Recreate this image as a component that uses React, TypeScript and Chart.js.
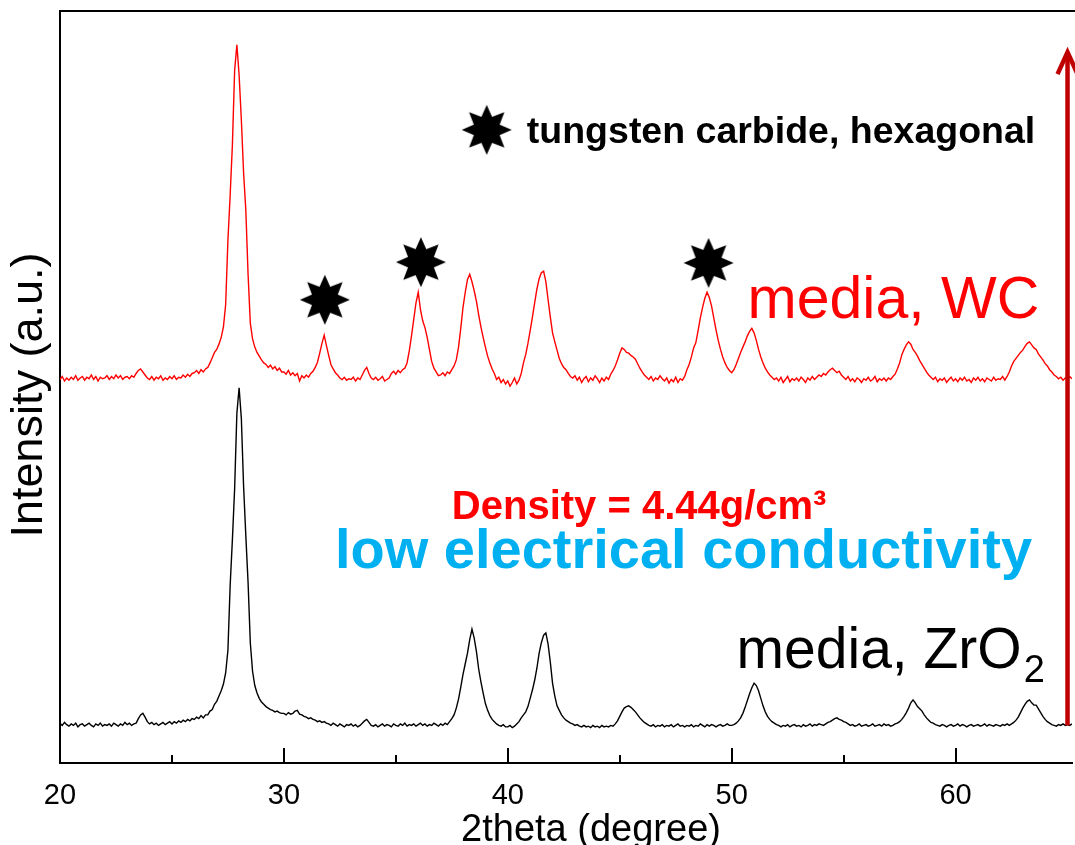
import { useEffect, useRef } from "react";
import { Chart, registerables } from "chart.js";

Chart.register(...registerables);

// 2theta grid of the scan (degrees)
const ANGLE_START = 20.0;
const ANGLE_STEP = 0.1;

// media, ZrO2 (lower pattern, plotted with its offset)
const zro2Intensity = [
  5.3, 5.0, 5.4, 5.1, 4.9, 5.2, 5.0, 5.3, 4.8, 5.1,
  5.2, 4.9, 5.1, 5.3, 5.0, 4.8, 5.2, 5.0, 5.3, 4.9,
  5.1, 5.0, 5.2, 4.9, 5.3, 5.1, 4.9, 5.2, 5.0, 5.4,
  5.1, 5.3, 5.0, 5.2, 5.3, 5.9, 6.4, 6.6, 6.1, 5.5,
  5.2, 5.4, 5.1, 5.3, 5.0, 5.2, 5.4, 5.1, 5.3, 5.5,
  5.2, 5.5, 5.3, 5.6, 5.4, 5.7, 5.5, 5.8, 5.6, 5.9,
  5.8, 6.1, 5.9, 6.3, 6.0, 6.4, 6.4, 6.9, 7.1, 7.8,
  8.2, 8.9, 9.6, 10.5, 12.0, 15.0, 23.6, 29.7, 36.5, 46.5,
  49.9, 45.8, 36.8, 30.2, 24.0, 16.0, 12.2, 10.3, 9.3, 8.6,
  8.1, 7.8, 7.5, 7.3, 7.1, 7.0, 6.8, 6.9, 6.7, 6.6,
  6.6, 6.4, 6.7, 6.5, 6.6, 6.9, 7.0, 6.5, 6.4, 6.2,
  6.1, 5.9, 6.0, 5.8, 5.7, 5.5, 5.6, 5.4, 5.5, 5.3,
  5.2, 5.0, 5.3, 5.1, 4.9, 5.2, 5.0, 4.8, 5.1, 5.0,
  5.2, 4.9, 5.1, 4.8, 5.0, 5.3, 5.6, 5.8, 5.4, 5.0,
  4.9, 5.1, 4.8, 5.0, 5.2, 4.9, 5.1, 5.0, 4.8, 5.2,
  5.0, 4.9, 5.2, 5.0, 5.3, 4.9, 5.1, 5.0, 5.2, 4.9,
  5.1, 5.3, 5.0, 5.2, 4.9, 5.1, 5.0, 5.3, 5.1, 4.9,
  5.2, 5.0, 5.3, 5.1, 5.5, 5.9, 6.4, 7.3, 8.5, 10.1,
  11.8, 13.2, 14.6, 16.4, 17.8, 16.6, 14.8, 12.5, 10.8, 9.3,
  7.9, 7.0, 6.3, 5.8, 5.5, 5.2, 5.0, 4.9, 5.1, 4.8,
  4.8, 5.0, 4.7, 4.9, 5.2, 5.5, 6.0, 6.4, 6.8, 7.5,
  8.6, 9.7, 11.0, 12.6, 14.6, 16.0, 17.0, 17.3, 15.8, 13.4,
  10.6, 8.9, 7.6, 7.0, 6.4, 6.0, 5.7, 5.5, 5.3, 5.2,
  5.0, 5.1, 4.9, 4.8, 5.0, 4.8, 4.9, 4.7, 5.0, 4.8,
  4.9, 4.7, 5.0, 4.8, 4.9, 4.8, 5.0, 4.9, 5.2, 5.6,
  6.2, 6.8, 7.3, 7.5, 7.6, 7.4, 7.1, 6.8, 6.4, 6.0,
  5.7, 5.4, 5.2, 5.0, 4.9, 5.1, 4.8, 5.0, 4.9, 5.1,
  4.8, 5.0, 4.9, 5.1, 4.8, 5.0, 5.2, 4.9, 5.0, 4.8,
  5.0, 4.9, 5.1, 4.8, 5.0, 4.9, 5.2, 5.0, 4.8, 5.1,
  4.9, 5.1, 5.0, 4.8, 5.0, 5.1, 4.9, 5.0, 5.2, 5.0,
  5.0, 5.1, 5.3, 5.6, 6.0, 6.6, 7.4, 8.3, 9.2, 10.0,
  10.6, 10.3, 9.6, 8.6, 7.6, 6.8, 6.2, 5.8, 5.5, 5.3,
  5.1, 5.0, 4.8, 5.0, 4.9, 5.1, 4.8, 5.0, 5.1, 4.9,
  5.0, 4.8, 5.1, 4.9, 5.0, 5.2, 4.9, 5.1, 5.0, 5.2,
  5.1, 5.0, 5.2, 5.4, 5.5, 5.7, 5.9, 6.0, 5.8, 5.7,
  5.5, 5.4, 5.2, 5.0, 5.1, 4.9, 5.0, 5.2, 4.9, 5.0,
  5.1, 4.9, 5.0, 5.2, 4.9, 5.0, 5.1, 4.9, 5.2, 5.0,
  5.1, 4.9, 5.0, 5.2, 5.3, 5.5, 5.8, 6.2, 6.7, 7.3,
  8.0, 8.4, 8.0, 7.5, 7.2, 6.9, 6.4, 6.0, 5.7, 5.4,
  5.3, 5.1, 5.0, 4.9, 5.1, 5.0, 4.8, 5.0, 5.1, 4.9,
  5.0, 5.2, 4.9, 5.1, 5.0, 4.8, 5.0, 5.1, 4.9, 5.0,
  5.1, 4.9, 5.0, 5.2, 4.9, 5.1, 5.0, 4.9, 5.1, 5.0,
  4.9, 5.1, 5.0, 5.2, 5.0, 5.2, 5.4, 5.7, 6.1, 6.7,
  7.3, 7.8, 8.2, 8.4, 8.0, 7.7, 7.7, 7.2, 6.7, 6.2,
  5.8, 5.5, 5.3, 5.1, 5.0, 4.9, 5.1, 5.0, 5.2, 5.0,
  5.1, 5.0, 5.2,
];

// media, WC (upper pattern, plotted with its offset)
const wcIntensity = [
  51.0, 51.4, 50.8, 51.2, 50.9, 51.3, 51.0, 51.5, 50.9, 51.2,
  51.4, 50.9, 51.3, 51.1, 51.6, 51.0, 51.4, 50.8, 51.3, 51.1,
  51.2, 51.5, 51.0, 51.4, 51.1, 51.6, 51.2, 51.5, 51.0, 51.3,
  51.4, 51.1, 51.5, 51.3, 51.8, 52.2, 52.4, 52.0, 51.6, 51.2,
  51.0, 51.4, 50.9, 51.3, 51.1, 51.5, 50.9, 51.2, 51.0, 51.4,
  51.1, 51.5, 51.0, 51.3, 51.2, 51.6, 51.3, 51.7, 51.4, 51.8,
  51.9, 52.2, 51.8, 52.3, 52.0, 52.4, 52.6, 53.2, 53.9, 54.6,
  55.0, 55.7, 56.6, 58.0, 61.0, 69.5, 75.5, 82.2, 92.1, 95.5,
  91.5, 85.5, 78.5, 73.5, 65.0, 58.5, 56.4, 55.3, 54.6, 54.1,
  53.6, 53.2, 53.0, 52.6, 52.9, 52.4, 52.7, 52.2, 52.5, 52.0,
  52.0, 51.7, 52.2, 51.6, 51.9, 51.5, 51.8, 50.8, 51.5, 51.2,
  51.6, 51.3, 51.8, 52.1, 52.6, 53.3, 54.5, 55.8, 56.9, 55.5,
  54.2, 53.0, 52.4, 51.9, 51.6, 51.2, 51.0, 51.3, 50.9, 51.1,
  51.0, 51.3, 50.8, 51.2, 51.0, 51.6, 52.2, 52.6, 51.8, 51.2,
  51.0, 51.3, 50.9, 51.1, 51.4, 50.8, 51.0, 51.2, 51.8, 52.1,
  51.7, 52.2, 51.9, 52.3, 52.5, 53.2, 54.8, 56.8, 59.0, 61.2,
  62.6, 60.3, 58.8, 57.9, 56.6, 55.0, 53.4, 52.5, 52.0, 51.5,
  51.6, 51.9, 51.5, 52.0, 51.8, 52.3, 52.8, 53.6, 55.3, 57.8,
  60.6, 62.6, 64.3, 65.0, 64.0, 62.8, 61.4, 59.6, 58.0, 56.6,
  55.3, 54.1, 53.2, 52.4, 51.8, 51.0, 51.3, 50.6, 51.0, 50.4,
  50.8, 50.1, 50.6, 51.2, 50.4, 50.9, 51.8, 53.2, 54.3, 55.8,
  57.5, 59.3, 61.2, 63.0, 64.4, 65.2, 65.4, 64.0, 61.6, 59.3,
  57.2, 56.0, 54.9, 53.8, 53.1, 52.6, 52.3, 51.8, 51.4, 51.2,
  51.5, 50.9, 51.3, 50.6, 51.1, 51.4, 50.7, 51.2, 50.9, 51.5,
  51.1, 50.6, 51.2, 50.8, 51.3, 51.0, 51.7, 52.2, 52.8, 53.6,
  54.5, 55.2, 55.0, 54.6, 54.5, 54.2, 54.0, 53.7, 53.1, 52.5,
  52.0, 51.6, 51.3, 51.0, 51.4, 50.8, 51.2, 51.0, 51.5, 51.1,
  50.8, 51.2, 50.5, 51.0, 50.7, 51.3, 50.6, 51.1, 50.9, 51.4,
  52.3, 53.0, 54.0, 55.2, 55.9, 57.5, 59.2, 60.6, 61.8, 62.6,
  61.9, 60.8, 59.2, 57.6, 56.2, 55.0, 54.0, 53.2, 52.6, 52.2,
  51.9, 52.3, 53.0, 53.8, 54.6, 55.3, 56.0, 56.8, 57.4, 57.8,
  57.2, 56.2, 55.0, 54.0, 53.2, 52.5, 52.0, 51.6, 51.3, 51.0,
  51.2, 50.8, 51.3, 50.6, 51.0, 51.4, 50.7, 51.1, 50.9, 51.2,
  50.8, 51.3, 51.0, 50.6, 51.2, 50.9, 51.4, 51.0, 51.3, 51.6,
  51.4, 51.8, 51.6, 52.0, 52.3, 52.5, 52.2, 51.9, 52.1, 51.6,
  51.3, 51.0, 51.4, 50.8, 51.1, 50.7, 51.2, 51.0, 50.6, 51.1,
  50.9, 51.3, 50.8, 51.0, 51.4, 50.7, 51.1, 50.9, 51.2, 50.8,
  51.2, 51.0, 51.4, 51.7, 52.4, 53.2, 54.3, 55.0, 55.6, 56.0,
  55.7, 55.0, 54.6, 54.1, 53.5, 53.0, 52.5, 52.0, 51.6, 51.3,
  51.0, 51.3, 50.7, 51.1, 50.9, 51.2, 50.6, 51.0, 51.3, 50.8,
  51.1, 50.7, 51.2, 50.9, 51.3, 50.8, 51.0, 50.6, 51.2, 50.9,
  51.3, 50.8, 51.1, 50.7, 51.2, 51.0, 50.8, 51.3, 50.9, 51.1,
  51.0, 51.4, 50.9, 51.4, 52.0, 52.8, 53.4, 53.8, 54.2, 54.6,
  54.9, 55.4, 55.8, 56.0, 55.6, 55.2, 55.0, 54.4, 54.0, 53.6,
  53.1, 52.8, 52.3, 52.0, 51.6, 51.4, 51.1, 51.3, 50.9, 51.2,
  51.0, 51.4, 51.1,
];

// tungsten carbide reflections marked with stars
const starAngles = [31.83, 36.12, 48.97];
const starHeights = [61.6, 66.6, 66.5];
const legendStarAngle = 39.06;
const legendStarHeight = 84.2;

const majorTicks = [20, 30, 40, 50, 60];
const minorTicks = [25, 35, 45, 55];
const X_MIN = 20;
const X_MAX = 65.2;

const xTitle = "2theta (degree)";
const yTitle = "Intensity (a.u.)";
const legendText = "tungsten carbide, hexagonal";
const wcLabel = "media, WC";
const zro2Label = "media, ZrO";
const zro2Sub = "2";
const densityText = "Density = 4.44g/cm³";
const conductivityText = "low electrical conductivity";

// arrow (x position and y extent in data units)
const arrowAngle = 65.0;
const arrowFrom = 5.0;
const arrowTo = 94.8;

const FONT = '"Liberation Sans", Arial, Helvetica, sans-serif';

function makeStar(): HTMLCanvasElement {
  const c = document.createElement("canvas");
  c.width = 52;
  c.height = 52;
  const g = c.getContext("2d")!;
  const R = 25;
  const r = 14;
  g.fillStyle = "#000";
  g.beginPath();
  for (let i = 0; i < 16; i++) {
    const a = -Math.PI / 2 + (i * Math.PI) / 8;
    const rad = i % 2 === 0 ? R : r;
    const px = 26 + rad * Math.cos(a);
    const py = 26 + rad * Math.sin(a);
    if (i === 0) g.moveTo(px, py);
    else g.lineTo(px, py);
  }
  g.closePath();
  g.fill();
  return c;
}

export default function App() {
  const ref = useRef<HTMLCanvasElement | null>(null);

  useEffect(() => {
    const canvas = ref.current;
    if (!canvas) return;
    const star = makeStar();
    const angles = zro2Intensity.map((_, i) => +(ANGLE_START + i * ANGLE_STEP).toFixed(1));

    const annotate = {
      id: "annotate",
      afterDraw(chart: any) {
        const { ctx, chartArea } = chart;
        const xs = chart.scales.x;
        const ys = chart.scales.y;
        const X = (v: number) => xs.getPixelForValue(v);
        const Y = (v: number) => ys.getPixelForValue(v);
        ctx.save();
        // top frame line
        ctx.strokeStyle = "#000";
        ctx.lineWidth = 2;
        ctx.beginPath();
        ctx.moveTo(chartArea.left - 1, chartArea.top);
        ctx.lineTo(chart.width, chartArea.top);
        ctx.stroke();
        // inward tick marks
        for (const v of majorTicks) {
          const px = Math.round(X(v));
          ctx.beginPath();
          ctx.moveTo(px, chartArea.bottom);
          ctx.lineTo(px, chartArea.bottom - 15);
          ctx.stroke();
        }
        for (const v of minorTicks) {
          const px = Math.round(X(v));
          ctx.beginPath();
          ctx.moveTo(px, chartArea.bottom);
          ctx.lineTo(px, chartArea.bottom - 8);
          ctx.stroke();
        }

        const text = (t: string, xv: number, yv: number, font: string, color: string) => {
          ctx.font = font;
          ctx.fillStyle = color;
          ctx.textAlign = "left";
          ctx.textBaseline = "alphabetic";
          ctx.fillText(t, X(xv), Y(yv));
        };

        // legend key text
        text(legendText, 40.85, 82.4, `bold 37.5px ${FONT}`, "#000");
        // labels
        text(wcLabel, 50.71, 59.2, `59px ${FONT}`, "#FF0000");
        text(densityText, 37.5, 32.4, `bold 40px ${FONT}`, "#FF0000");
        text(conductivityText, 32.28, 25.9, `bold 56px ${FONT}`, "#00B0F0");
        ctx.font = `57px ${FONT}`;
        const zw = ctx.measureText(zro2Label).width;
        text(zro2Label, 50.22, 12.6, `57px ${FONT}`, "#000");
        ctx.font = `38px ${FONT}`;
        ctx.fillStyle = "#000";
        ctx.fillText(zro2Sub, X(50.22) + zw + 2, Y(10.8));

        // axis titles
        ctx.font = `38px ${FONT}`;
        ctx.fillStyle = "#000";
        ctx.textAlign = "center";
        ctx.textBaseline = "alphabetic";
        ctx.fillText(xTitle, 591, 841);
        ctx.save();
        ctx.translate(42, 395);
        ctx.rotate(-Math.PI / 2);
        ctx.font = `45px ${FONT}`;
        ctx.fillText(yTitle, 0, 0);
        ctx.restore();

        // red arrow
        const ax = X(arrowAngle);
        const y0 = Y(arrowFrom);
        const y1 = Y(arrowTo);
        ctx.strokeStyle = "#C00000";
        ctx.lineWidth = 4.5;
        ctx.lineCap = "butt";
        ctx.beginPath();
        ctx.moveTo(ax, y0);
        ctx.lineTo(ax, y1 + 2);
        ctx.stroke();
        ctx.lineJoin = "miter";
        ctx.beginPath();
        ctx.moveTo(ax - 10, y1 + 24);
        ctx.lineTo(ax, y1 + 2);
        ctx.lineTo(ax + 10, y1 + 24);
        ctx.stroke();
        ctx.restore();
      },
    };

    const chart = new Chart(canvas, {
      type: "line",
      data: {
        datasets: [
          {
            label: "stars",
            data: [
              ...starAngles.map((a, i) => ({ x: a, y: starHeights[i] })),
              { x: legendStarAngle, y: legendStarHeight },
            ],
            showLine: false,
            pointStyle: star as any,
            pointRadius: 24,
            borderWidth: 0,
          },
          {
            label: "media, WC",
            data: angles.map((a, i) => ({ x: a, y: wcIntensity[i] })),
            borderColor: "#FF0000",
            borderWidth: 1.4,
            pointRadius: 0,
            tension: 0,
          },
          {
            label: "media, ZrO2",
            data: angles.map((a, i) => ({ x: a, y: zro2Intensity[i] })),
            borderColor: "#000000",
            borderWidth: 1.4,
            pointRadius: 0,
            tension: 0,
          },
        ],
      },
      options: {
        responsive: false,
        animation: false,
        devicePixelRatio: 1,
        layout: { autoPadding: false, padding: { top: 11, right: 3, left: 0, bottom: 0 } },
        plugins: { legend: { display: false }, tooltip: { enabled: false } },
        scales: {
          x: {
            type: "linear",
            min: X_MIN,
            max: X_MAX,
            afterFit: (s: any) => {
              s.height = 82;
            },
            grid: { display: true, drawOnChartArea: false, drawTicks: false, color: "#000" },
            border: { display: true, color: "#000", width: 2 },
            ticks: {
              stepSize: 10,
              includeBounds: false,
              padding: 16,
              color: "#000",
              font: { family: FONT, size: 29 },
              maxRotation: 0,
              callback: (v: any) => (majorTicks.includes(Number(v)) ? String(v) : ""),
            },
          },
          y: {
            type: "linear",
            min: 0,
            max: 100,
            afterFit: (s: any) => {
              s.width = 60;
            },
            grid: { display: true, drawOnChartArea: false, drawTicks: false, color: "#000" },
            border: { display: true, color: "#000", width: 2 },
            ticks: { display: false },
          },
        },
      } as any,
      plugins: [annotate as any],
    });
    return () => chart.destroy();
  }, []);

  return (
    <div style={{ position: "absolute", left: 0, top: 0, width: 1075, height: 845, background: "#fff" }}>
      <canvas ref={ref} width={1075} height={845} style={{ display: "block", width: 1075, height: 845 }} />
    </div>
  );
}
